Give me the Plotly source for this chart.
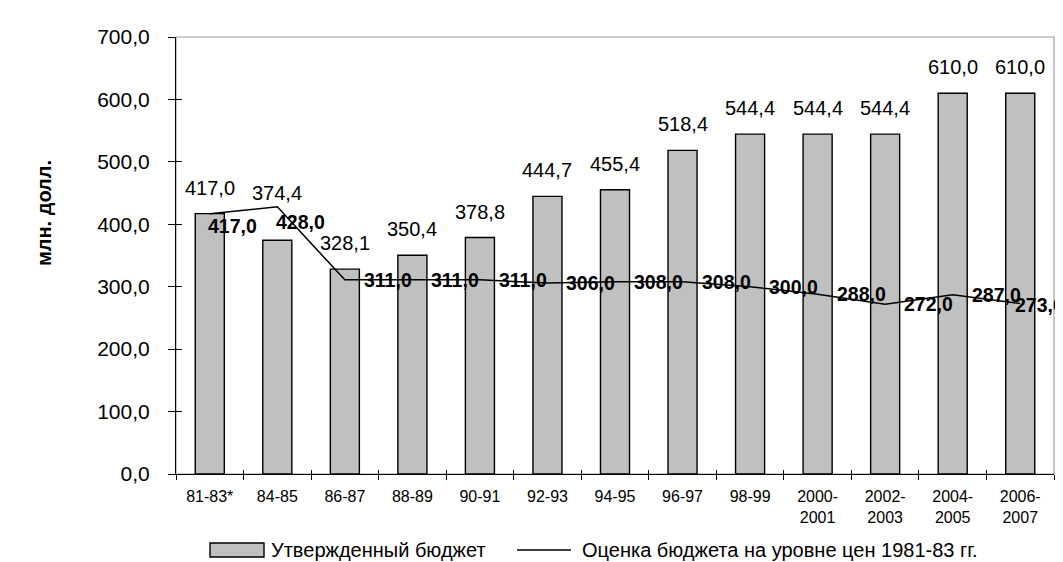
import plotly.graph_objects as go

# ---- data ----
categories = ["81-83*", "84-85", "86-87", "88-89", "90-91", "92-93", "94-95",
              "96-97", "98-99", "2000-<br>2001", "2002-<br>2003",
              "2004-<br>2005", "2006-<br>2007"]
approved_budget = [417.0, 374.4, 328.1, 350.4, 378.8, 444.7, 455.4,
                   518.4, 544.4, 544.4, 544.4, 610.0, 610.0]
budget_1981_83_prices = [417.0, 428.0, 311.0, 311.0, 311.0, 306.0, 308.0,
                         308.0, 300.0, 288.0, 272.0, 287.0, 273.0]
y_tick_values = [0, 100, 200, 300, 400, 500, 600, 700]

name_bar = "Утвержденный бюджет"
name_line = "Оценка бюджета на уровне цен 1981-83 гг."
y_title = "млн. долл."

# ---- label placement (style only) ----
bar_label_lift = [13, 34, 13, 13, 13, 13, 13, 13, 13, 13, 13, 13, 13]
line_label_dx = [-4, -3] + [17] * 10 + [-7]
line_label_dy = [-12, -15] + [0] * 10 + [-1]

FONT = "Liberation Sans, Arial, sans-serif"
L, R, T, B = 168, 17, 29, 96
W, H = 1063, 562
PW, PH = W - L - R, H - T - B


def px_x(p):
    return (p - L) / PW


def px_y(p):
    return (H - B - p) / PH


def fmt(v):
    return f"{v:.1f}".replace(".", ",")


fig = go.Figure()
fig.add_trace(go.Bar(
    x=categories, y=approved_budget, name=name_bar, showlegend=False,
    marker=dict(color="#c0c0c0", line=dict(color="black", width=1.4)),
))
fig.add_trace(go.Scatter(
    x=categories, y=budget_1981_83_prices, name=name_line, mode="lines",
    showlegend=False, line=dict(color="black", width=1.5),
))
# helper trace for the inner half of the crossing tick marks
fig.add_trace(go.Scatter(x=[None], y=[None], xaxis="x2", yaxis="y2",
                         showlegend=False, hoverinfo="skip"))

annotations = []
for i, (c, v) in enumerate(zip(categories, approved_budget)):
    annotations.append(dict(
        x=c, y=v, xref="x", yref="y", text=fmt(v), showarrow=False,
        yanchor="bottom", xanchor="center", yshift=bar_label_lift[i],
        font=dict(family=FONT, size=20, color="black")))
for i, (c, v) in enumerate(zip(categories, budget_1981_83_prices)):
    annotations.append(dict(
        x=c, y=v, xref="x", yref="y", text="<b>" + fmt(v) + "</b>",
        showarrow=False, yanchor="middle", xanchor="left",
        xshift=line_label_dx[i], yshift=line_label_dy[i],
        font=dict(family=FONT, size=19.5, color="black")))
annotations.append(dict(
    x=px_x(36), y=px_y(205), xref="paper", yref="paper",
    text="<b>" + y_title + "</b>",
    showarrow=False, textangle=-90, xanchor="center", yanchor="middle",
    font=dict(family=FONT, size=20, color="black")))

# ---- legend drawn by hand (wide box symbol like the original) ----
leg_y = 542
annotations.append(dict(
    x=px_x(261), y=px_y(leg_y), xref="paper", yref="paper", text=name_bar,
    showarrow=False, xanchor="left", yanchor="middle",
    font=dict(family=FONT, size=20, color="black")))
annotations.append(dict(
    x=px_x(572), y=px_y(leg_y), xref="paper", yref="paper", text=name_line,
    showarrow=False, xanchor="left", yanchor="middle",
    font=dict(family=FONT, size=20, color="black")))

shapes = [
    dict(type="rect", xref="paper", yref="paper", x0=0, x1=1, y0=0, y1=1,
         line=dict(color="#a0a0a0", width=1.2), layer="below"),
    dict(type="rect", xref="paper", yref="paper",
         x0=px_x(202), x1=px_x(256), y0=px_y(leg_y + 7), y1=px_y(leg_y - 7),
         fillcolor="#c0c0c0", line=dict(color="black", width=1.4)),
    dict(type="line", xref="paper", yref="paper",
         x0=px_x(509), x1=px_x(563), y0=px_y(leg_y), y1=px_y(leg_y),
         line=dict(color="black", width=1.5)),
]

n = len(categories)
fig.update_layout(
    width=W, height=H,
    margin=dict(l=L, r=R, t=T, b=B),
    paper_bgcolor="white", plot_bgcolor="white",
    separators=", ",
    font=dict(family=FONT, color="black"),
    bargap=0.57,
    showlegend=False,
    xaxis=dict(
        type="category", range=[-0.5, n - 0.5], showline=True,
        linecolor="black", linewidth=1.2, ticks="outside", ticklen=5,
        tickcolor="black", tickson="boundaries", showgrid=False,
        tickfont=dict(family=FONT, size=16), ticklabelstandoff=8,
        zeroline=False, fixedrange=True),
    yaxis=dict(
        range=[0, 700], tickvals=y_tick_values, tickformat=".1f",
        showline=True, linecolor="black", linewidth=1.2, ticks="outside",
        ticklen=7, tickcolor="black", showgrid=False, zeroline=False,
        tickfont=dict(family=FONT, size=21), ticklabelstandoff=14),
    xaxis2=dict(
        overlaying="x", range=[-0.5, n - 0.5],
        tickvals=[i - 0.5 for i in range(n + 1)], ticks="inside", ticklen=4,
        tickcolor="black", showticklabels=False, showgrid=False,
        showline=False, zeroline=False),
    yaxis2=dict(
        overlaying="y", range=[0, 700], tickvals=y_tick_values,
        ticks="inside", ticklen=6, tickcolor="black", showticklabels=False,
        showgrid=False, showline=False, zeroline=False),
    shapes=shapes,
    annotations=annotations,
)

fig.write_html("out.html")
